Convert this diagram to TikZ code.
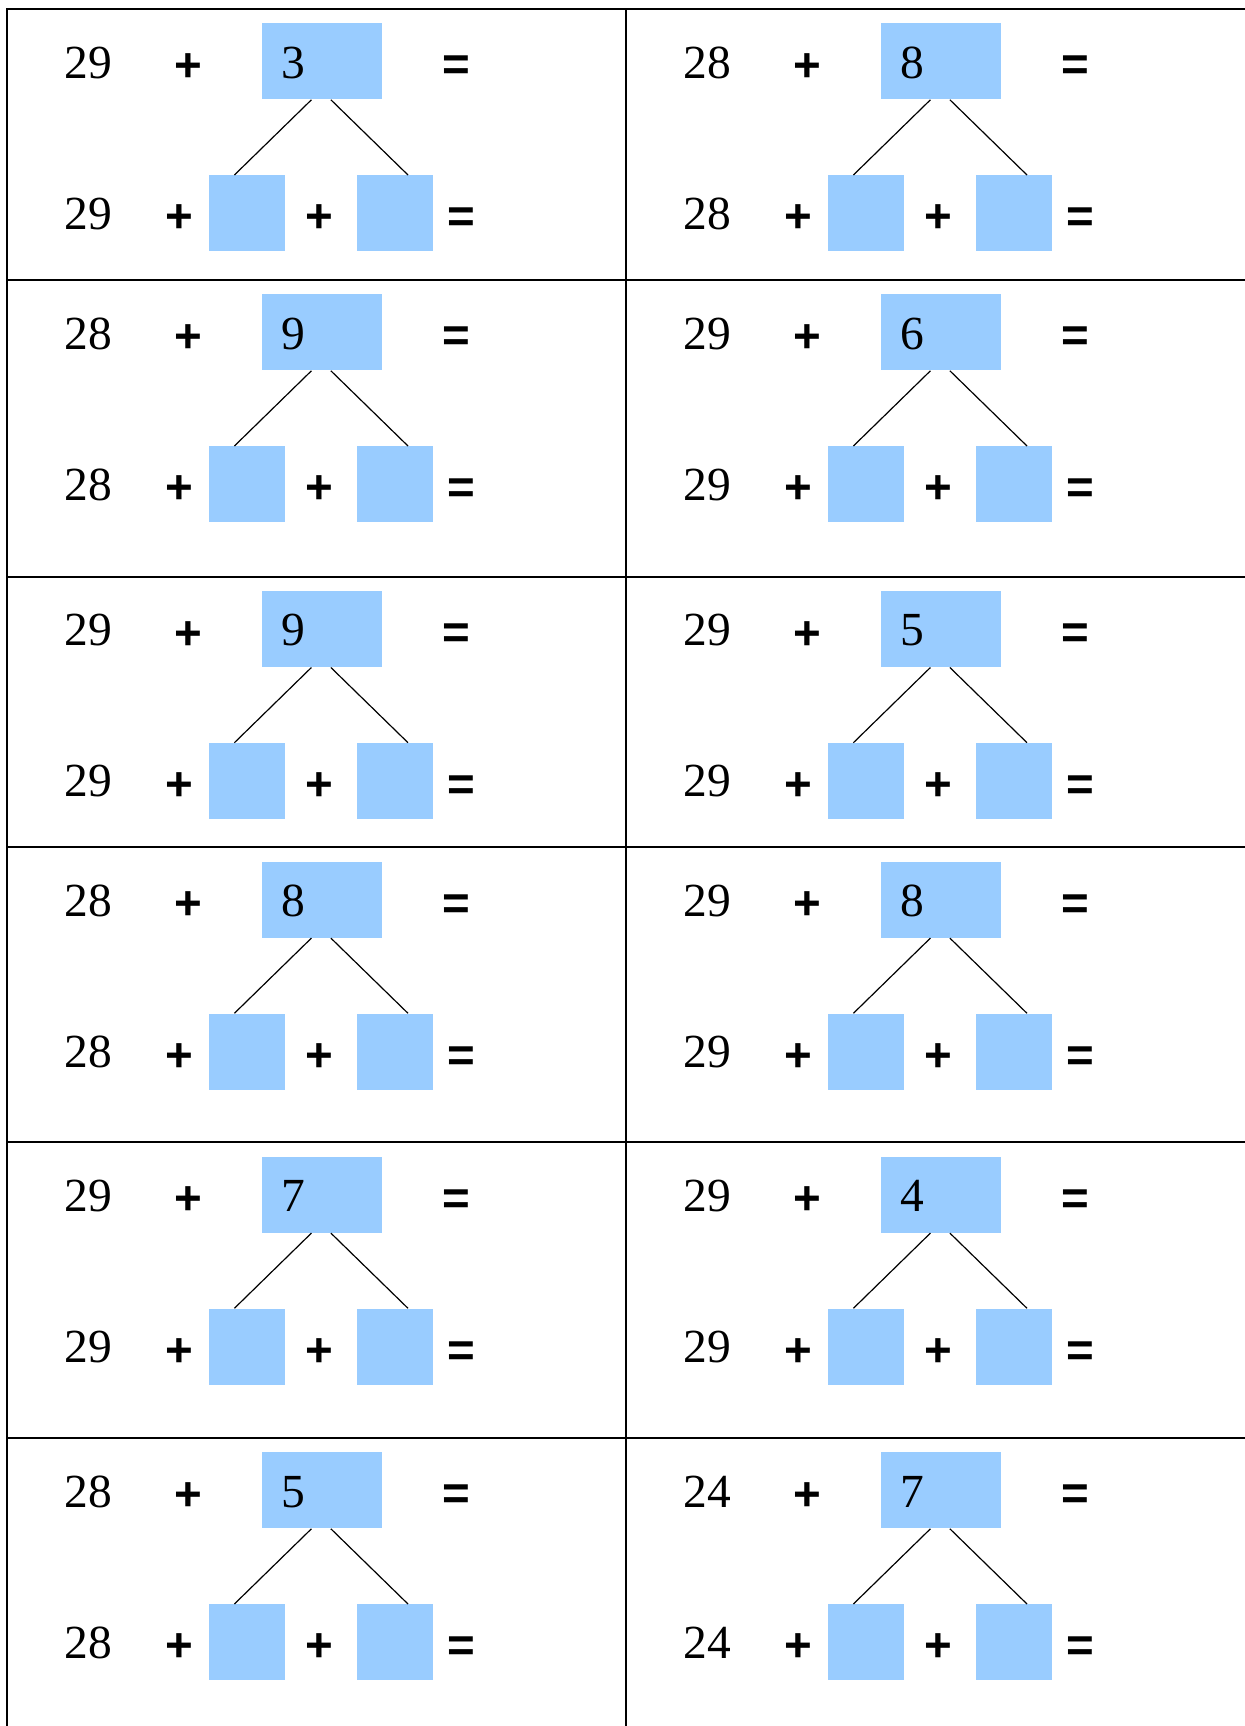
\documentclass[tikz,border=0pt]{standalone}
\usepackage{fontspec}
\setmainfont{Liberation Serif}
\newfontfamily\opfont{Liberation Sans}
\definecolor{boxblue}{RGB}{153,204,255}
\begin{document}
\begin{tikzpicture}[x=0.5pt,y=-0.5pt,
  numtext/.style={font=\fontsize{23.75pt}{28pt}\selectfont, inner sep=0pt, anchor=base west},
  optext/.style={font=\opfont\bfseries\fontsize{23.75pt}{28pt}\selectfont, inner sep=0pt, anchor=center},
  topbox/.style={fill=boxblue, draw=none, minimum width=60pt, minimum height=38pt, inner sep=0pt, anchor=north west},
  partbox/.style={fill=boxblue, draw=none, minimum width=38pt, minimum height=38pt, inner sep=0pt, anchor=north west},
  gridline/.style={line width=1pt},
  link/.style={line width=0.6pt}]
\useasboundingbox[fill=white] (0,0) rectangle (1245,1726);
% grid
\foreach \yy in {9,280,576.7,847.3,1142.3,1438}{
  \draw[gridline] (6,\yy) -- (1245,\yy);
}
\draw[gridline] (6.7,8) -- (6.7,1726);
\draw[gridline] (626,8) -- (626,1726);
% cells
\foreach \nm/\x/\y/\a/\b in {
  c11/7/9/29/3, c12/626/9/28/8,
  c21/7/280/28/9, c22/626/280/29/6,
  c31/7/576.7/29/9, c32/626/576.7/29/5,
  c41/7/847.3/28/8, c42/626/847.3/29/8,
  c51/7/1142.3/29/7, c52/626/1142.3/29/4,
  c61/7/1438/28/5, c62/626/1438/24/7}{
  \node[topbox] (\nm-t) at ({\x+255},{\y+14}) {};
  \node[partbox] (\nm-l) at ({\x+202},{\y+166}) {};
  \node[partbox] (\nm-r) at ({\x+350},{\y+166}) {};
  \node[numtext] (\nm-d) at ({\x+274},{\y+69}) {\b};
  \node[numtext] (\nm-a1) at ({\x+57.5},{\y+69}) {\a};
  \node[numtext] (\nm-a2) at ({\x+57.5},{\y+220}) {\a};
  \node[optext] (\nm-p1) at ({\x+181},{\y+58.5}) {+};
  \node[optext] (\nm-e1) at ({\x+449.5},{\y+59.5}) {=};
  \node[optext] (\nm-p2) at ({\x+172},{\y+210}) {+};
  \node[optext] (\nm-p3) at ({\x+312},{\y+210}) {+};
  \node[optext] (\nm-e2) at ({\x+454.5},{\y+211.5}) {=};
  \draw[link] ([xshift=-5.5pt]\nm-t.south) -- ([xshift=-6.5pt]\nm-l.north);
  \draw[link] ([xshift=4.25pt]\nm-t.south) -- ([xshift=6.3pt]\nm-r.north);
}
\end{tikzpicture}
\end{document}
